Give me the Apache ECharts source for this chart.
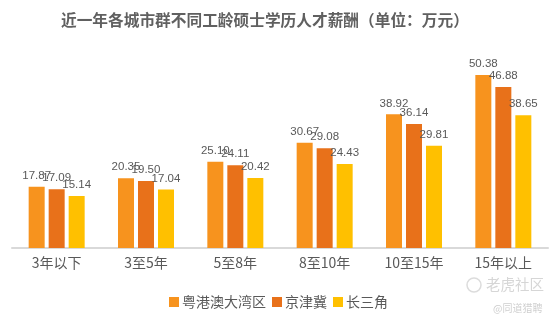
<!DOCTYPE html>
<html>
<head>
<meta charset="utf-8">
<script src="https://cdn.jsdelivr.net/npm/echarts@6/dist/echarts.min.js"></script>
<style>html,body{margin:0;padding:0;background:#fff}#c{width:553px;height:321px}</style>
</head>
<body>
<div id="c"></div>
<script>
var categories = ['3年以下', '3至5年', '5至8年', '8至10年', '10至15年', '15年以上'];
var seriesNames = ['粤港澳大湾区', '京津冀', '长三角'];
var gba = [17.87, 20.35, 25.10, 30.67, 38.92, 50.38];
var jjj = [17.09, 19.50, 24.11, 29.08, 36.14, 46.88];
var csj = [15.14, 17.04, 20.42, 24.43, 29.81, 38.65];
var colors = ['#F7931E', '#E8711A', '#FFC000'];
var titleText = '近一年各城市群不同工龄硕士学历人才薪酬（单位：万元）';

var chart = echarts.init(document.getElementById('c'));
var font = '"Microsoft YaHei","Noto Sans CJK SC",sans-serif';
function mk(name, data, color) {
  return {
    name: name, type: 'bar', data: data, barWidth: 16, barGap: '25%',
    itemStyle: {color: color},
    label: {show: true, position: 'top', distance: 5, color: '#595959', fontSize: 11.5, fontFamily: 'Arial, "Liberation Sans", sans-serif',
      formatter: function (p) { return p.value.toFixed(2); }}
  };
}
chart.setOption({
  animation: false,
  backgroundColor: '#fff',
  color: colors,
  title: {text: titleText, left: 56, top: 7,
    textStyle: {fontSize: 15.7, fontWeight: 'bold', color: '#606060', fontFamily: font}},
  legend: {bottom: 7, left: 164, itemWidth: 10, itemHeight: 10, itemGap: 6,
    icon: 'rect', textStyle: {fontSize: 14, color: '#595959', fontFamily: font, padding: [0, 0, 0, -2]},
    data: seriesNames},
  grid: {left: 12, right: 5, top: 42, bottom: 73},
  xAxis: {type: 'category', data: categories,
    axisLine: {lineStyle: {color: '#d9d9d9', width: 2}},
    axisTick: {show: false},
    axisLabel: {fontSize: 14, color: '#595959', margin: 8, fontFamily: font}},
  yAxis: {type: 'value', min: 0, max: 60, show: false, splitLine: {show: false}},
  series: [mk(seriesNames[0], gba, colors[0]), mk(seriesNames[1], jjj, colors[1]), mk(seriesNames[2], csj, colors[2])],
  graphic: [
    {type: 'circle', shape: {cx: 474, cy: 285, r: 7}, style: {fill: 'none', stroke: '#dcdcdc', lineWidth: 1.5}},
    {type: 'text', left: 486, top: 277, style: {text: '老虎社区', fontSize: 14.5, fill: '#d6d6d6', fontFamily: font}},
    {type: 'text', left: 493, top: 303, style: {text: '@同道猎聘', fontSize: 10, fill: '#cfcfcf', fontFamily: font}}
  ]
});
</script>
</body>
</html>
